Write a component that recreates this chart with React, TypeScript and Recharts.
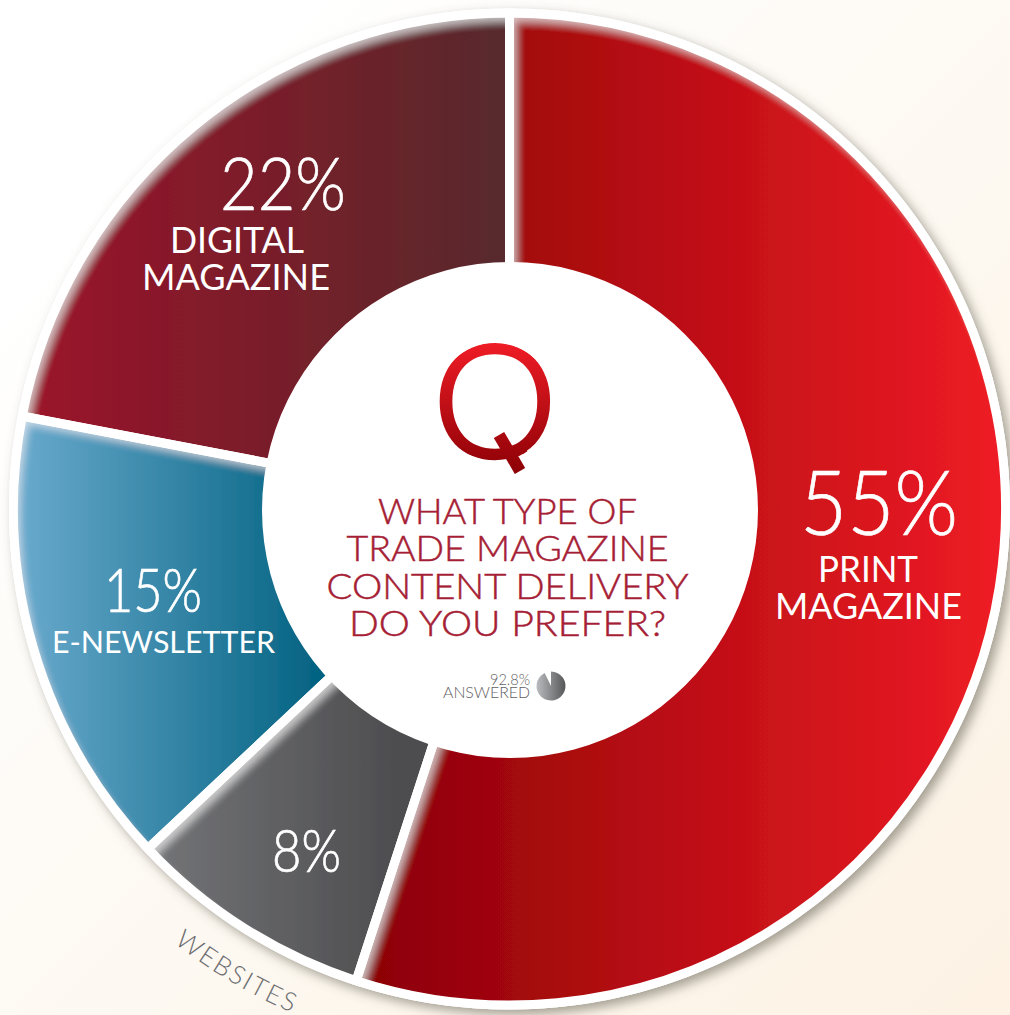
import { Cell, Pie, PieChart } from "recharts";

const categories = ["Print Magazine", "Websites", "E-Newsletter", "Digital Magazine"];
const shares = [55, 8, 15, 22];
const sliceFills = ["url(#printFill)", "url(#webFill)", "url(#newsFill)", "url(#digitalFill)"];
const answeredLabels = ["Answered", "Blank"];
const answeredShares = [92.8, 7.2];
const questionLines = ["WHAT TYPE OF", "TRADE MAGAZINE", "CONTENT DELIVERY", "DO YOU PREFER?"];
const questionWidths = [259, 322, 362, 317];

const slices = categories.map((name, i) => ({ name, value: shares[i] }));
const answered = answeredLabels.map((name, i) => ({ name, value: answeredShares[i] }));
const disc = [{ name: "disc", value: 1 }];

const CX = 509.5;
const CY = 509;
const FONT = "Lato, sans-serif";

function HGrad({ id, x1, x2, from, to }: { id: string; x1: number; x2: number; from: string; to: string }) {
  return (
    <linearGradient id={id} gradientUnits="userSpaceOnUse" x1={x1} y1={0} x2={x2} y2={0}>
      <stop offset="0" stopColor={from} />
      <stop offset="1" stopColor={to} />
    </linearGradient>
  );
}

// Centred text squeezed to a known run width, the installed face is wider than the design's
function Fit({ x, y, size, width, children }: { x: number; y: number; size: number; width: number; children: string }) {
  return (
    <text x={x} y={y} fontSize={size} textLength={width} lengthAdjust="spacingAndGlyphs">
      {children}
    </text>
  );
}

// Text sits in its own layer because the chart paints its pies above plain svg children
function Labels() {
  return (
    <svg width={1010} height={1015} style={{ position: "absolute", left: 0, top: 0 }}>
      <defs>
        <linearGradient id="qFill" gradientUnits="userSpaceOnUse" x1={0} y1={344} x2={0} y2={476}>
          <stop offset="0" stopColor="#ee1c25" />
          <stop offset="1" stopColor="#8a0005" />
        </linearGradient>
        <clipPath id="qBowl">
          <circle cx={495} cy={402} r={59} />
        </clipPath>
      </defs>
      <g fontFamily={FONT} fill="#ffffff" stroke="#ffffff" strokeWidth={0.7} textAnchor="middle" fontWeight={300}>
        <Fit x={879} y={535} size={90} width={158}>{`${shares[0]}%`}</Fit>
        <Fit x={283} y={210} size={73} width={126}>{`${shares[3]}%`}</Fit>
        <Fit x={153} y={612} size={62} width={98}>{`${shares[2]}%`}</Fit>
        <Fit x={306.5} y={872} size={60} width={69}>{`${shares[1]}%`}</Fit>
      </g>
      <g fontFamily={FONT} fill="#ffffff" textAnchor="middle" fontWeight={400}>
        <Fit x={868} y={582} size={36} width={100}>PRINT</Fit>
        <Fit x={868.5} y={619} size={36} width={187}>MAGAZINE</Fit>
        <Fit x={237} y={253} size={36} width={134}>DIGITAL</Fit>
        <Fit x={236} y={290} size={36} width={188}>MAGAZINE</Fit>
        <Fit x={163.5} y={653} size={31} width={223}>E-NEWSLETTER</Fit>
      </g>

      <path id="websitesArc" d="M 174 943 A 549 549 0 0 0 509 1058" fill="none" />
      <text fontFamily={FONT} fontSize={26} fill="#6d6e71" fontWeight={300} letterSpacing={2}>
        <textPath href="#websitesArc">WEBSITES</textPath>
      </text>

      {/* the letter's own tail is clipped off and replaced by a straight bar through the bowl */}
      <text
        x={495}
        y={457}
        textAnchor="middle"
        fontFamily={FONT}
        fontSize={157}
        fontWeight={300}
        fill="url(#qFill)"
        stroke="url(#qFill)"
        strokeWidth={4.5}
        clipPath="url(#qBowl)"
      >
        Q
      </text>
      <path d="M 499 435 L 520 471" fill="none" stroke="url(#qFill)" strokeWidth={12} />

      <g fontFamily={FONT} fill="#a61e35" stroke="#a61e35" strokeWidth={0.5} textAnchor="middle" fontWeight={300}>
        {questionLines.map((line, i) => (
          <Fit key={line} x={507.5} y={524 + i * 37.4} size={35} width={questionWidths[i]}>
            {line}
          </Fit>
        ))}
      </g>

      <g fontFamily={FONT} fill="#5f6063" textAnchor="end" fontWeight={300} fontSize={16}>
        <text x={530} y={685} textLength={40} lengthAdjust="spacingAndGlyphs">{`${answeredShares[0]}%`}</text>
        <text x={530} y={698} textLength={87} lengthAdjust="spacingAndGlyphs">ANSWERED</text>
      </g>
    </svg>
  );
}

export default function App() {
  return (
    <div
      style={{
        position: "absolute",
        left: 0,
        top: 0,
        width: 1010,
        height: 1015,
        overflow: "hidden",
        background: "linear-gradient(135deg, #ffffff 15%, #fdf8f0 60%, #fdf2e4 100%)",
      }}
    >
      <PieChart width={1010} height={1015} margin={{ top: 0, right: 0, bottom: 0, left: 0 }}>
        <defs>
          <HGrad id="printFill" x1={358} x2={1000} from="#8a0005" to="#ee1c25" />
          <HGrad id="webFill" x1={160} x2={400} from="#727376" to="#4d4d4f" />
          <HGrad id="newsFill" x1={18} x2={330} from="#69aacd" to="#00607f" />
          <HGrad id="digitalFill" x1={26} x2={505} from="#9c1229" to="#572a2d" />
          <HGrad id="miniFill" x1={536} x2={566} from="#bcbdc0" to="#545557" />
          {/* soft pale rim on the edges that face the upper left */}
          <filter id="rimGlow" filterUnits="userSpaceOnUse" x={0} y={0} width={1010} height={1015}>
            <feFlood floodColor="#ffffff" floodOpacity={0.55} result="flood" />
            <feComposite in="flood" in2="SourceAlpha" operator="out" result="outside" />
            <feOffset in="outside" dx={6} dy={8} result="moved" />
            <feGaussianBlur in="moved" stdDeviation={4} result="soft" />
            <feComposite in="soft" in2="SourceAlpha" operator="in" result="rim" />
            <feMerge>
              <feMergeNode in="SourceGraphic" />
              <feMergeNode in="rim" />
            </feMerge>
          </filter>
          <filter id="ringShadow" filterUnits="userSpaceOnUse" x={0} y={0} width={1010} height={1015}>
            <feDropShadow dx={5} dy={5} stdDeviation={6} floodColor="#5a5548" floodOpacity={0.55} />
          </filter>
        </defs>

        {/* white backing ring with its shadow */}
        <Pie
          data={disc}
          dataKey="value"
          cx={CX}
          cy={CY}
          innerRadius={0}
          outerRadius={500.5}
          fill="#ffffff"
          stroke="none"
          isAnimationActive={false}
        >
          <Cell fill="#ffffff" filter="url(#ringShadow)" />
        </Pie>

        {/* coloured slices run to the centre so the hole edge stays clean */}
        <Pie
          data={slices}
          dataKey="value"
          cx={CX}
          cy={CY}
          startAngle={90}
          endAngle={-270}
          innerRadius={0}
          outerRadius={496}
          stroke="none"
          isAnimationActive={false}
        >
          {slices.map((s, i) => (
            <Cell key={s.name} fill={sliceFills[i]} filter="url(#rimGlow)" />
          ))}
        </Pie>

        {/* white separators and outer ring */}
        <Pie
          data={slices}
          dataKey="value"
          cx={CX}
          cy={CY}
          startAngle={90}
          endAngle={-270}
          innerRadius={0}
          outerRadius={496}
          fill="none"
          stroke="#ffffff"
          strokeWidth={9}
          isAnimationActive={false}
        />

        {/* centre hole */}
        <Pie
          data={disc}
          dataKey="value"
          cx={510}
          cy={510}
          innerRadius={0}
          outerRadius={248}
          fill="#ffffff"
          stroke="none"
          isAnimationActive={false}
        />

        <Pie
          data={answered}
          dataKey="value"
          cx={551}
          cy={686}
          startAngle={90}
          endAngle={-270}
          innerRadius={0}
          outerRadius={14.5}
          stroke="none"
          isAnimationActive={false}
        >
          <Cell fill="url(#miniFill)" />
          <Cell fill="none" />
        </Pie>
      </PieChart>
      <Labels />
    </div>
  );
}
